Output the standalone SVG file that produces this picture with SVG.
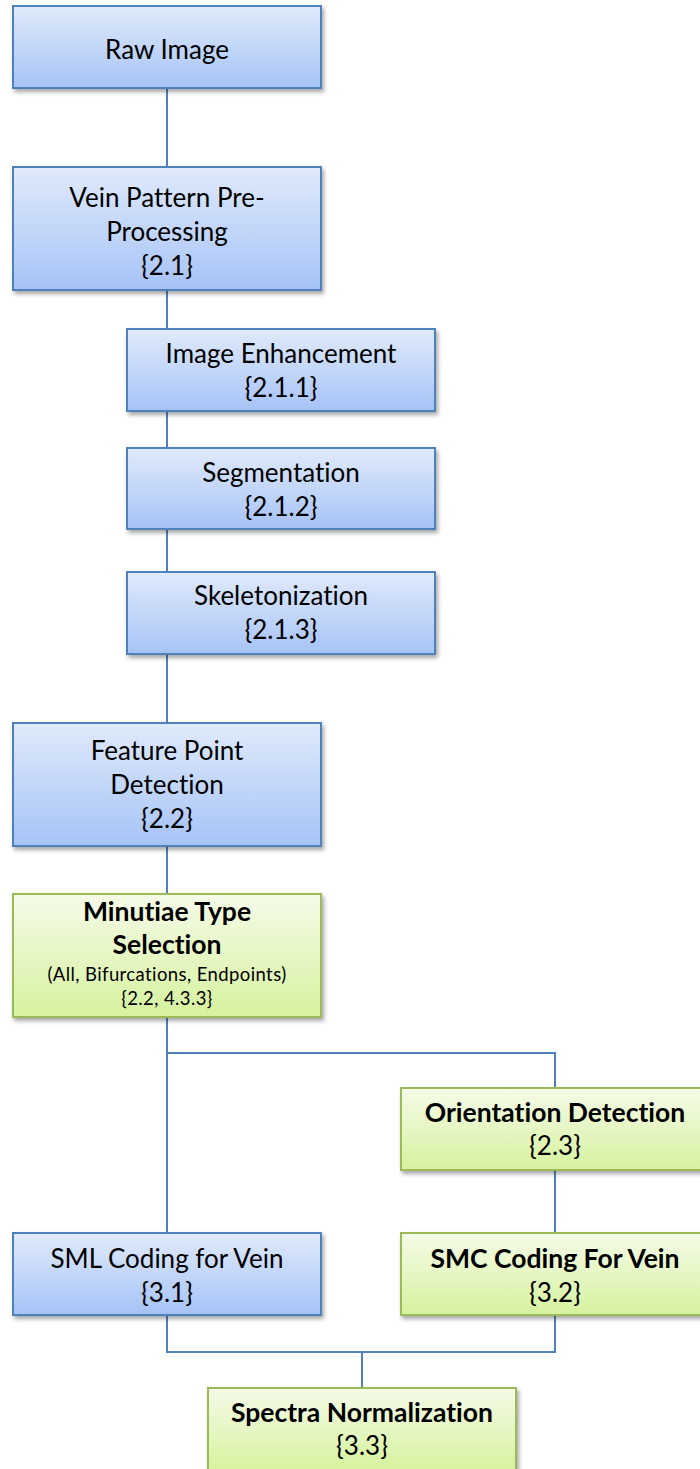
<svg xmlns="http://www.w3.org/2000/svg" width="700" height="1469" viewBox="0 0 700 1469">
<defs>
<linearGradient id="gb" x1="0" y1="0" x2="0" y2="1">
<stop offset="0" stop-color="#e0eafb"/>
<stop offset="1" stop-color="#a6c3f6"/>
</linearGradient>
<linearGradient id="gg" x1="0" y1="0" x2="0" y2="1">
<stop offset="0" stop-color="#f5fbe8"/>
<stop offset="1" stop-color="#d6f29f"/>
</linearGradient>
<filter id="sh" x="-10%" y="-10%" width="125%" height="130%">
<feDropShadow dx="2" dy="3" stdDeviation="2" flood-color="#000" flood-opacity="0.35"/>
</filter>
</defs>
<style>
.b{fill:url(#gb);stroke:#4f81bd;stroke-width:2;filter:url(#sh)}
.g{fill:url(#gg);stroke:#9bbb59;stroke-width:2;filter:url(#sh)}
text{font-family:Lato,"Open Sans","Liberation Sans",sans-serif;font-size:26px;fill:#000;text-anchor:middle;font-variant-ligatures:none}
.bd{font-weight:bold;font-size:26.5px}
.sm{font-size:18.5px;letter-spacing:0.4px}
.cn{fill:none;stroke:#4f81bd;stroke-width:2}
</style>
<g id="connectors">
<path class="cn" d="M167 88V167M167 290V329M167 411V448M167 529V572M167 654V723M167 846V894M167 1017V1233M167 1053H555V1088M555 1170V1233M167 1315V1352H555V1315M362 1352V1388"/>
</g>
<g id="raw-image">
<rect class="b" x="13" y="6" width="308" height="82"/>
<text x="167" y="59">Raw Image</text>
</g>
<g id="vein-preprocessing">
<rect class="b" x="13" y="167" width="308" height="123"/>
<text x="167" y="207">Vein Pattern Pre-</text>
<text x="167" y="241">Processing</text>
<text x="167" y="275">{2.1}</text>
</g>
<g id="image-enhancement">
<rect class="b" x="127" y="329" width="308" height="82"/>
<text x="281" y="363">Image Enhancement</text>
<text x="281" y="397">{2.1.1}</text>
</g>
<g id="segmentation">
<rect class="b" x="127" y="448" width="308" height="81"/>
<text x="281" y="482">Segmentation</text>
<text x="281" y="516">{2.1.2}</text>
</g>
<g id="skeletonization">
<rect class="b" x="127" y="572" width="308" height="82"/>
<text x="281" y="605">Skeletonization</text>
<text x="281" y="639">{2.1.3}</text>
</g>
<g id="feature-point-detection">
<rect class="b" x="13" y="723" width="308" height="123"/>
<text x="167" y="760">Feature Point</text>
<text x="167" y="794">Detection</text>
<text x="167" y="828">{2.2}</text>
</g>
<g id="minutiae-type-selection">
<rect class="g" x="13" y="894" width="308" height="123"/>
<text class="bd" x="167" y="921">Minutiae Type</text>
<text class="bd" x="167" y="954">Selection</text>
<text class="sm" x="167" y="981">(All, Bifurcations, Endpoints)</text>
<text class="sm" x="167" y="1005">{2.2, 4.3.3}</text>
</g>
<g id="orientation-detection">
<rect class="g" x="401" y="1088" width="308" height="82"/>
<text class="bd" x="555" y="1122">Orientation Detection</text>
<text x="555" y="1155">{2.3}</text>
</g>
<g id="sml-coding">
<rect class="b" x="13" y="1233" width="308" height="82"/>
<text x="167" y="1268">SML Coding for Vein</text>
<text x="167" y="1302">{3.1}</text>
</g>
<g id="smc-coding">
<rect class="g" x="401" y="1233" width="308" height="82"/>
<text class="bd" x="555" y="1268">SMC Coding For Vein</text>
<text x="555" y="1302">{3.2}</text>
</g>
<g id="spectra-normalization">
<rect class="g" x="208" y="1388" width="308" height="82"/>
<text class="bd" x="362" y="1422">Spectra Normalization</text>
<text x="362" y="1455">{3.3}</text>
</g>
</svg>
